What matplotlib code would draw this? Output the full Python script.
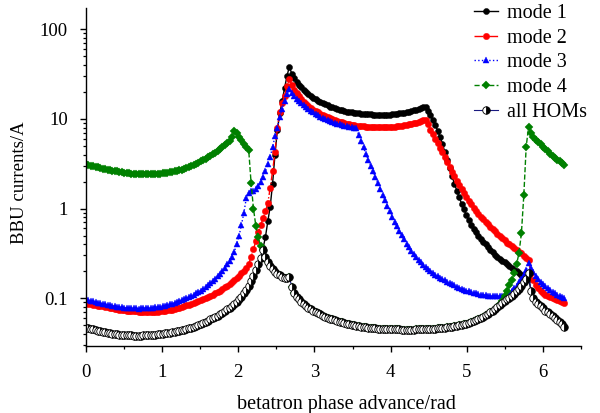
import numpy as np
import matplotlib
matplotlib.use("Agg")
import matplotlib.pyplot as plt
from matplotlib.ticker import MultipleLocator, LogLocator, FixedLocator, FixedFormatter, NullFormatter

plt.rcParams['font.family'] = ['Liberation Serif', 'DejaVu Serif']
plt.rcParams['font.size'] = 13.5

# betatron phase advance grid: 0 .. 2*pi, 201 points
n_points = 201
phase = np.linspace(0, 2 * np.pi, n_points)

all_homs = [
    0.0470, 0.0463, 0.0456, 0.0449, 0.0442, 0.0436, 0.0430, 0.0424, 0.0418, 0.0413,
    0.0408, 0.0404, 0.0400, 0.0397, 0.0394, 0.0391, 0.0389, 0.0387, 0.0386, 0.0385,
    0.0384, 0.0384, 0.0384, 0.0384, 0.0385, 0.0386, 0.0387, 0.0389, 0.0391, 0.0393,
    0.0396, 0.0399, 0.0402, 0.0405, 0.0409, 0.0413, 0.0418, 0.0423, 0.0428, 0.0434,
    0.0440, 0.0447, 0.0454, 0.0462, 0.0472, 0.0482, 0.0493, 0.0505, 0.0518, 0.0532,
    0.0547, 0.0563, 0.0580, 0.0599, 0.0619, 0.0641, 0.0665, 0.0691, 0.0720, 0.0752,
    0.0787, 0.0826, 0.0870, 0.0920, 0.0977, 0.104, 0.113, 0.124, 0.138, 0.155,
    0.177, 0.205, 0.240, 0.283, 0.345, 0.290, 0.255, 0.230, 0.212, 0.198,
    0.188, 0.180, 0.174, 0.170, 0.170, 0.172, 0.135, 0.115, 0.104, 0.097,
    0.091, 0.086, 0.082, 0.078, 0.075, 0.072, 0.070, 0.068, 0.066, 0.064,
    0.062, 0.061, 0.059, 0.058, 0.057, 0.056, 0.055, 0.054, 0.053, 0.052,
    0.0512, 0.0505, 0.0499, 0.0493, 0.0488, 0.0483, 0.0479, 0.0475, 0.0471, 0.0468,
    0.0465, 0.0462, 0.0460, 0.0458, 0.0456, 0.0454, 0.0453, 0.0452, 0.0451, 0.0450,
    0.0449, 0.0449, 0.0448, 0.0448, 0.0448, 0.0448, 0.0448, 0.0448, 0.0449, 0.0449,
    0.0450, 0.0451, 0.0452, 0.0453, 0.0455, 0.0457, 0.0459, 0.0461, 0.0464, 0.0467,
    0.0470, 0.0473, 0.0477, 0.0481, 0.0486, 0.0491, 0.0497, 0.0503, 0.0510, 0.0518,
    0.0525, 0.0540, 0.0555, 0.0571, 0.0588, 0.0606, 0.0625, 0.0648, 0.0672, 0.0700,
    0.0730, 0.0765, 0.0805, 0.0850, 0.0890, 0.0930, 0.0970, 0.101, 0.106, 0.112,
    0.120, 0.128, 0.138, 0.150, 0.166, 0.190, 0.122, 0.100, 0.092, 0.086,
    0.081, 0.077, 0.073, 0.070, 0.066, 0.063, 0.060, 0.057, 0.054, 0.051,
    0.048,
]

mode1 = [
    0.0470, 0.0463, 0.0456, 0.0449, 0.0442, 0.0436, 0.0430, 0.0424, 0.0418, 0.0413,
    0.0408, 0.0404, 0.0400, 0.0397, 0.0394, 0.0391, 0.0389, 0.0387, 0.0386, 0.0385,
    0.0384, 0.0384, 0.0384, 0.0384, 0.0385, 0.0386, 0.0387, 0.0389, 0.0391, 0.0393,
    0.0396, 0.0399, 0.0402, 0.0405, 0.0409, 0.0413, 0.0418, 0.0423, 0.0428, 0.0434,
    0.0440, 0.0447, 0.0454, 0.0462, 0.0472, 0.0482, 0.0493, 0.0505, 0.0518, 0.0532,
    0.0547, 0.0563, 0.0580, 0.0599, 0.0619, 0.0641, 0.0665, 0.0691, 0.0720, 0.0752,
    0.0787, 0.0826, 0.0870, 0.0920, 0.0977, 0.104, 0.113, 0.124, 0.138, 0.155,
    0.177, 0.205, 0.240, 0.283, 0.36, 0.48, 0.72, 1.05, 1.9, 4.0,
    7.5, 11.5, 16, 22, 30, 38, 32, 28.5, 26, 24,
    22.5, 21, 20, 19, 18.1, 17.3, 16.6, 16.0, 15.4, 14.9,
    14.5, 14.1, 13.7, 13.4, 13.1, 12.8, 12.6, 12.4, 12.2, 12.0,
    11.9, 11.8, 11.7, 11.6, 11.5, 11.4, 11.35, 11.3, 11.25, 11.2,
    11.15, 11.1, 11.1, 11.1, 11.1, 11.1, 11.1, 11.15, 11.2, 11.3,
    11.4, 11.5, 11.6, 11.75, 11.9, 12.05, 12.2, 12.4, 12.6, 12.85,
    13.1, 13.4, 13.7, 12.3, 11.0, 9.7, 8.5, 7.4, 6.3, 5.25,
    4.27, 3.47, 2.82, 2.29, 1.9, 1.58, 1.33, 1.13, 0.98, 0.84,
    0.74, 0.66, 0.596, 0.543, 0.50, 0.462, 0.427, 0.398, 0.372, 0.347,
    0.324, 0.305, 0.288, 0.275, 0.263, 0.251, 0.240, 0.229, 0.219, 0.209,
    0.20, 0.19, 0.182, 0.174, 0.168, 0.165, 0.122, 0.100, 0.092, 0.086,
    0.081, 0.077, 0.073, 0.070, 0.066, 0.063, 0.060, 0.057, 0.054, 0.051,
    0.048,
]

mode2 = [
    0.0880, 0.0870, 0.0860, 0.0850, 0.0840, 0.0830, 0.0820, 0.0810, 0.0800, 0.0790,
    0.0780, 0.0771, 0.0762, 0.0755, 0.0748, 0.0741, 0.0735, 0.0730, 0.0725, 0.0720,
    0.0716, 0.0713, 0.0710, 0.0708, 0.0706, 0.0705, 0.0705, 0.0705, 0.0706, 0.0708,
    0.0710, 0.0714, 0.0719, 0.0725, 0.0732, 0.0740, 0.0749, 0.0759, 0.0770, 0.0785,
    0.0800, 0.0815, 0.0832, 0.0850, 0.0870, 0.0890, 0.0910, 0.0930, 0.0950, 0.0975,
    0.1000, 0.1030, 0.106, 0.109, 0.113, 0.117, 0.122, 0.127, 0.132, 0.138,
    0.145, 0.152, 0.160, 0.169, 0.178, 0.190, 0.203, 0.220, 0.240, 0.29,
    0.35, 0.44, 0.55, 0.65, 0.78, 0.93, 1.15, 1.7, 2.6, 4.3,
    8.0, 12, 15, 18, 23, 28, 24, 21, 19.2, 17.8,
    16.6, 15.5, 14.6, 13.9, 13.3, 12.7, 12.2, 11.8, 11.4, 11.0,
    10.7, 10.4, 10.1, 9.9, 9.7, 9.5, 9.3, 9.15, 9.0, 8.85,
    8.72, 8.6, 8.5, 8.42, 8.35, 8.28, 8.22, 8.17, 8.13, 8.1,
    8.07, 8.05, 8.03, 8.02, 8.02, 8.03, 8.05, 8.08, 8.12, 8.17,
    8.23, 8.3, 8.38, 8.47, 8.57, 8.68, 8.8, 8.93, 9.07, 9.22,
    9.4, 9.6, 9.8, 8.7, 7.6, 6.7, 5.96, 5.37, 4.79, 4.22,
    3.72, 3.27, 2.88, 2.57, 2.29, 2.04, 1.82, 1.64, 1.48, 1.33,
    1.22, 1.11, 1.02, 0.944, 0.875, 0.813, 0.759, 0.711, 0.667, 0.627,
    0.589, 0.556, 0.525, 0.495, 0.468, 0.442, 0.417, 0.398, 0.380, 0.363,
    0.347, 0.331, 0.316, 0.299, 0.282, 0.266, 0.19, 0.16, 0.141, 0.129,
    0.121, 0.115, 0.110, 0.106, 0.103, 0.100, 0.098, 0.095, 0.093, 0.090,
    0.088,
]

mode3 = [
    0.097, 0.0955, 0.094, 0.0925, 0.091, 0.0895, 0.088, 0.0867, 0.0855, 0.0844,
    0.0833, 0.0823, 0.0814, 0.0806, 0.0798, 0.0791, 0.0785, 0.0780, 0.0776, 0.0773,
    0.0770, 0.0769, 0.0768, 0.0769, 0.0770, 0.0773, 0.0776, 0.0781, 0.0786, 0.0793,
    0.0800, 0.0809, 0.0818, 0.0829, 0.0841, 0.0855, 0.0870, 0.0887, 0.0905, 0.0925,
    0.0947, 0.0971, 0.0997, 0.1027, 0.106, 0.1095, 0.113, 0.1175, 0.122, 0.1275,
    0.133, 0.140, 0.147, 0.155, 0.164, 0.175, 0.187, 0.202, 0.218, 0.238,
    0.26, 0.29, 0.33, 0.40, 0.50, 0.66, 0.90, 1.30, 1.50, 1.55,
    1.58, 1.65, 1.78, 1.98, 2.25, 2.6, 3.1, 3.8, 4.8, 6.4,
    8.0, 10.5, 13, 15.8, 18.8, 21.4, 19.5, 18.0, 16.8, 15.8,
    14.9, 14.1, 13.4, 12.8, 12.3, 11.8, 11.35, 10.95, 10.6, 10.25,
    9.95, 9.7, 9.45, 9.25, 9.05, 8.85, 8.7, 8.55, 8.42, 8.3,
    8.2, 8.1, 8.0, 7.9, 6.6, 5.6, 4.8, 4.07, 3.5, 3.02,
    2.6, 2.24, 1.93, 1.66, 1.43, 1.23, 1.07, 0.933, 0.813, 0.716,
    0.631, 0.562, 0.501, 0.452, 0.407, 0.372, 0.339, 0.313, 0.288, 0.269,
    0.251, 0.237, 0.224, 0.211, 0.202, 0.193, 0.184, 0.176, 0.170, 0.164,
    0.158, 0.153, 0.148, 0.143, 0.139, 0.135, 0.131, 0.128, 0.125, 0.122,
    0.120, 0.117, 0.115, 0.1135, 0.1117, 0.110, 0.1089, 0.1076, 0.1067, 0.106,
    0.1054, 0.1052, 0.1052, 0.106, 0.107, 0.109, 0.112, 0.116, 0.122, 0.129,
    0.138, 0.150, 0.164, 0.182, 0.204, 0.245, 0.215, 0.195, 0.178, 0.164,
    0.153, 0.144, 0.136, 0.129, 0.123, 0.118, 0.113, 0.109, 0.106, 0.103,
    0.100,
]

mode4 = [
    3.10, 3.05, 3.00, 2.95, 2.91, 2.87, 2.83, 2.79, 2.75, 2.71,
    2.68, 2.65, 2.62, 2.59, 2.56, 2.535, 2.51, 2.49, 2.47, 2.455,
    2.44, 2.43, 2.42, 2.415, 2.41, 2.41, 2.41, 2.415, 2.42, 2.43,
    2.44, 2.455, 2.47, 2.49, 2.51, 2.535, 2.56, 2.59, 2.63, 2.67,
    2.72, 2.78, 2.84, 2.91, 2.99, 3.07, 3.15, 3.25, 3.35, 3.46,
    3.58, 3.72, 3.86, 4.03, 4.2, 4.4, 4.6, 4.82, 5.05, 5.35,
    5.7, 6.2, 7.4, 6.9, 6.3, 5.8, 5.3, 4.9, 4.55, 1.95,
    1.0, 0.64, 0.48, 0.38, 0.345, 0.290, 0.255, 0.230, 0.212, 0.198,
    0.188, 0.180, 0.174, 0.170, 0.170, 0.172, 0.135, 0.115, 0.104, 0.097,
    0.091, 0.086, 0.082, 0.078, 0.075, 0.072, 0.070, 0.068, 0.066, 0.064,
    0.062, 0.061, 0.059, 0.058, 0.057, 0.056, 0.055, 0.054, 0.053, 0.052,
    0.0512, 0.0505, 0.0499, 0.0493, 0.0488, 0.0483, 0.0479, 0.0475, 0.0471, 0.0468,
    0.0465, 0.0462, 0.0460, 0.0458, 0.0456, 0.0454, 0.0453, 0.0452, 0.0451, 0.0450,
    0.0449, 0.0449, 0.0448, 0.0448, 0.0448, 0.0448, 0.0448, 0.0448, 0.0449, 0.0449,
    0.0450, 0.0451, 0.0452, 0.0453, 0.0455, 0.0457, 0.0459, 0.0461, 0.0464, 0.0467,
    0.0470, 0.0473, 0.0477, 0.0481, 0.0486, 0.0491, 0.0497, 0.0503, 0.0510, 0.0518,
    0.0525, 0.0540, 0.0555, 0.0571, 0.0588, 0.0606, 0.0625, 0.0648, 0.0672, 0.0700,
    0.0730, 0.0765, 0.0805, 0.086, 0.093, 0.105, 0.12, 0.14, 0.16, 0.19,
    0.24, 0.32, 0.53, 1.4, 4.9, 8.1, 6.9, 6.3, 5.85, 5.5,
    5.2, 4.9, 4.6, 4.35, 4.1, 3.9, 3.7, 3.5, 3.35, 3.2,
    3.08,
]

series_labels = ['mode 1', 'mode 2', 'mode 3', 'mode 4', 'all HOMs']
y_tick_values = [0.1, 1, 10, 100]
y_tick_labels = ['0.1', '1', '10', '100']
x_tick_values = [0, 1, 2, 3, 4, 5, 6]

fig = plt.figure(figsize=(6, 4.13), dpi=100)
ax = fig.add_axes([0.1433, 0.163, 0.825, 0.817])

ax.plot(phase, mode1, color='black', ls='-', lw=1.0, marker='o', ms=4.4,
        mfc='black', mec='black', mew=0.3, label=series_labels[0])
ax.plot(phase, mode2, color='red', ls='-.', lw=1.0, marker='o', ms=4.6,
        mfc='red', mec='red', mew=0.3, label=series_labels[1])
ax.plot(phase, mode3, color='blue', ls=':', lw=1.0, marker='^', ms=5.0,
        mfc='blue', mec='blue', mew=0.3, label=series_labels[2])
ax.plot(phase, mode4, color='#008000', ls='--', lw=1.0, marker='D', ms=3.8,
        mfc='#008000', mec='#008000', mew=0.3, label=series_labels[3])
ax.plot(phase, all_homs, color='#1a1a80', ls='-', lw=0.8, marker='o', ms=5.4,
        fillstyle='right', mfc='black', mfcalt='white', mec='black', mew=0.6,
        label=series_labels[4])

ax.set_yscale('log')
ax.set_xlim(0, 6.5)
ax.set_ylim(0.0296, 171)

for s in ['top', 'right']:
    ax.spines[s].set_visible(False)
for s in ['left', 'bottom']:
    ax.spines[s].set_linewidth(1.0)

ax.xaxis.set_major_locator(FixedLocator(x_tick_values))
ax.xaxis.set_minor_locator(MultipleLocator(0.5))
ax.yaxis.set_major_locator(FixedLocator(y_tick_values))
ax.yaxis.set_major_formatter(FixedFormatter(y_tick_labels))
ax.yaxis.set_minor_locator(LogLocator(base=10, subs=np.arange(2, 10), numticks=20))
ax.yaxis.set_minor_formatter(NullFormatter())

ax.tick_params(which='major', direction='out', length=4.5, width=1.0, pad=8.5, labelsize=13.5)
ax.tick_params(which='minor', direction='out', length=2.5, width=0.9)

ax.set_xlabel('betatron phase advance/rad', fontsize=14.5, va='top')
ax.xaxis.set_label_coords(0.526, -0.146)
ax.set_ylabel('BBU currents/A', fontsize=13.5)
ax.yaxis.set_label_coords(-0.117, 0.482)

leg = ax.legend(loc='upper left', bbox_to_anchor=(0.79, 0.991),
                bbox_transform=fig.transFigure, frameon=False,
                fontsize=14.5, handlelength=1.2, handletextpad=0.45,
                labelspacing=0.28, borderpad=0.0, borderaxespad=0.0,
                numpoints=1)

fig.savefig('out.png', dpi=100)
